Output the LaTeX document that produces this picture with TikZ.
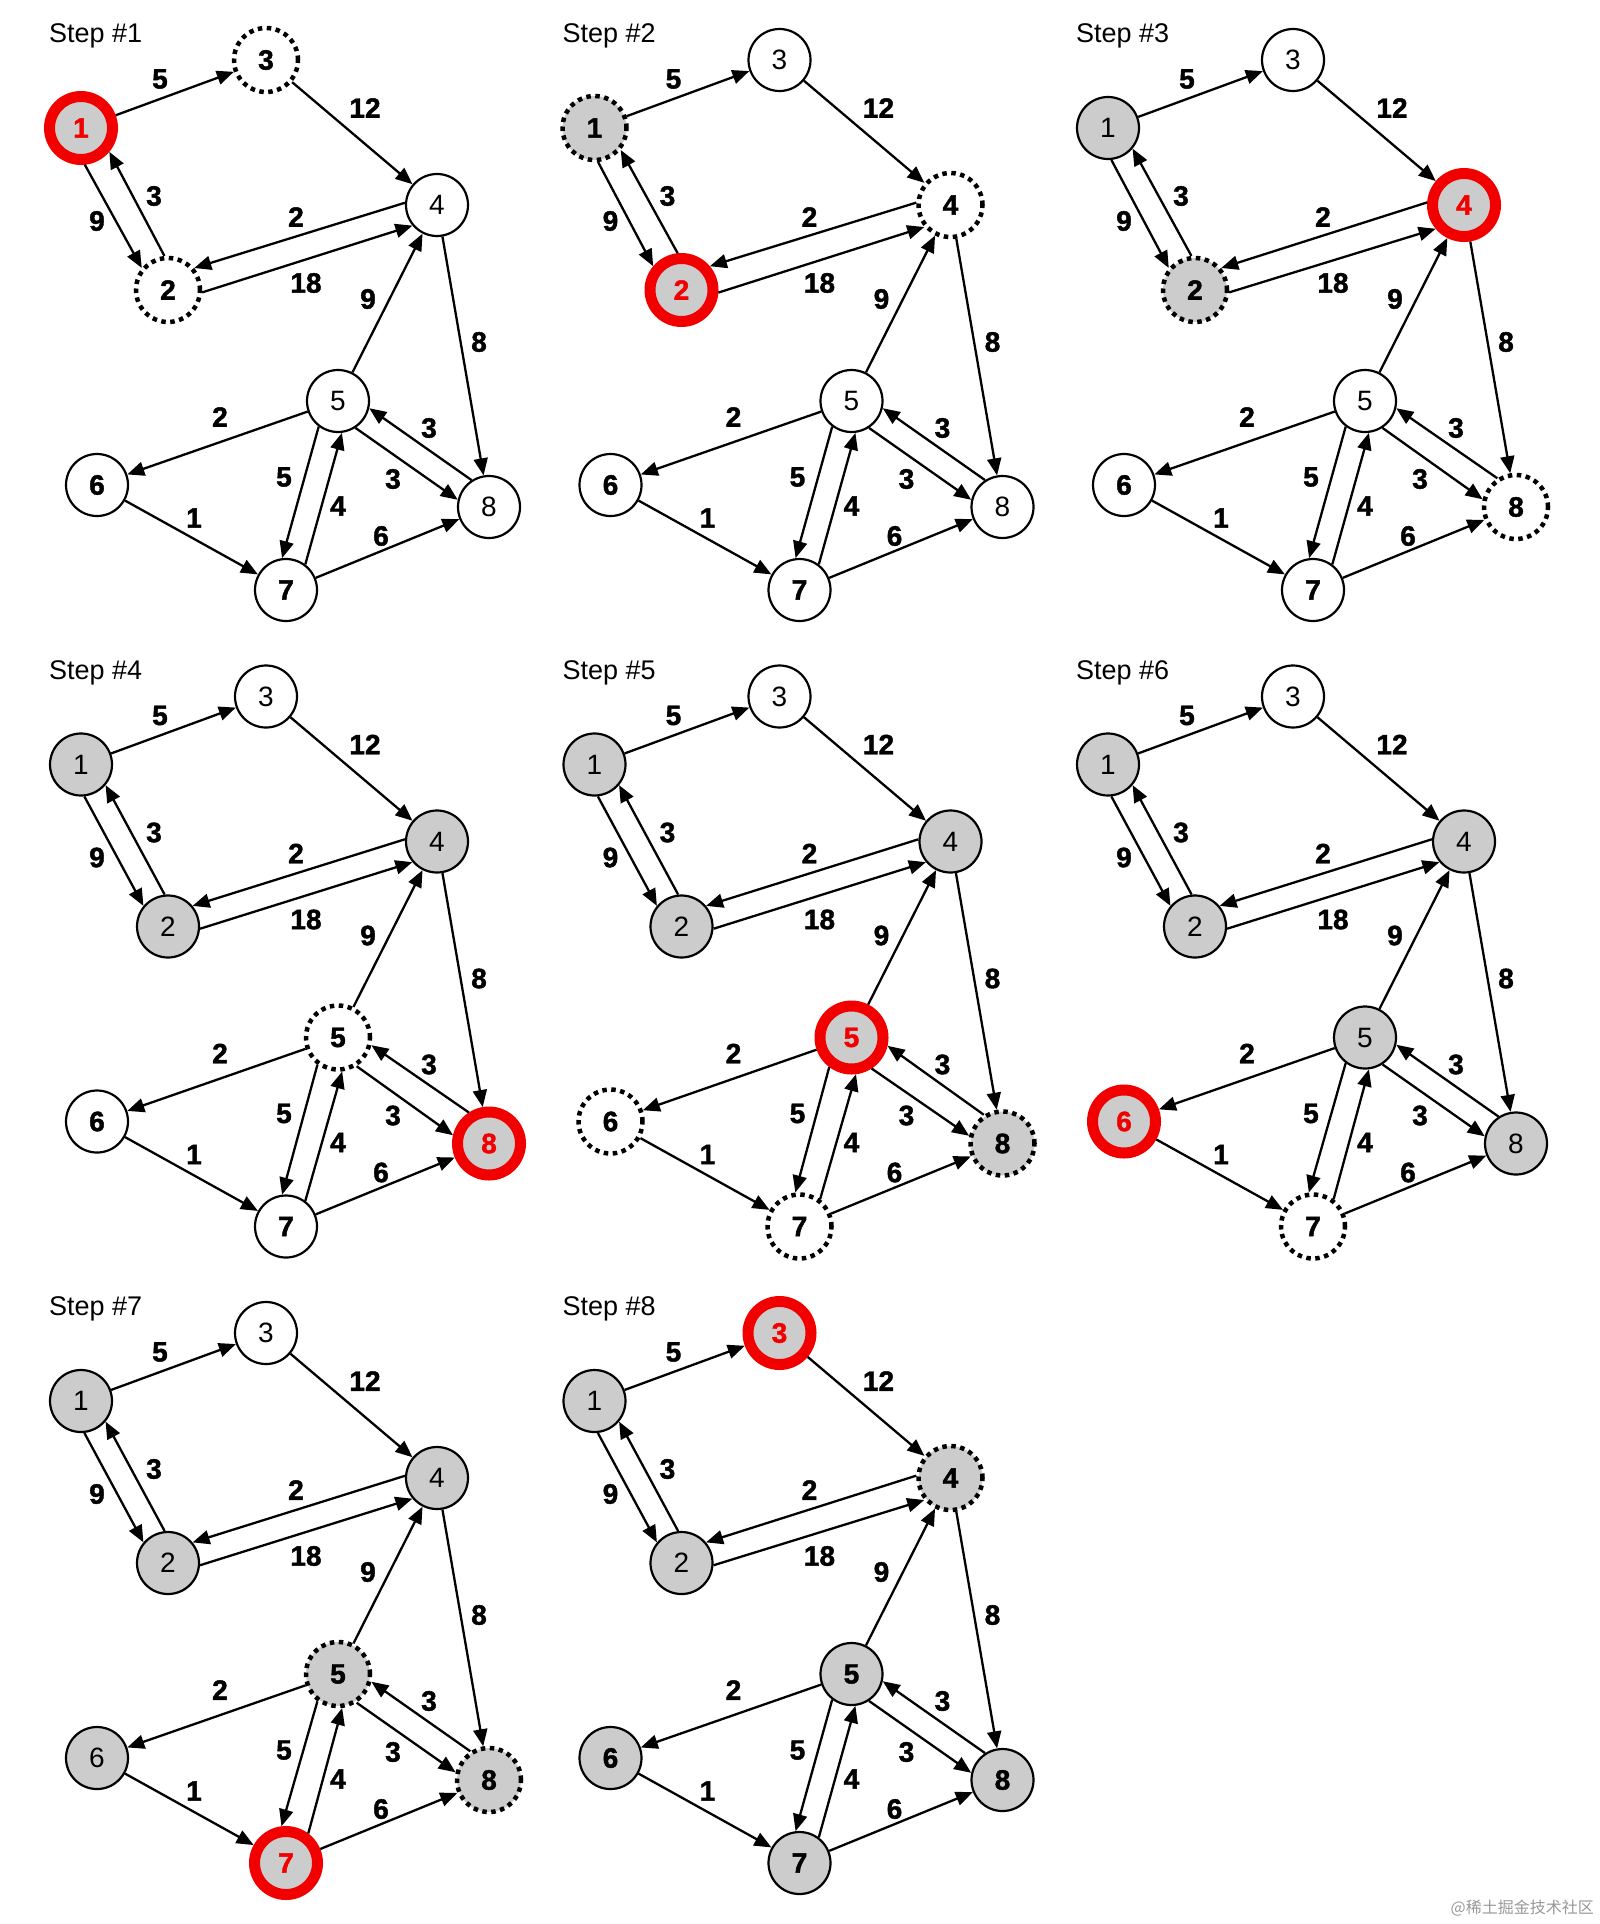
\documentclass[tikz,border=0pt]{standalone}
\usepackage{fontspec}
\setmainfont{Liberation Sans}
\newfontfamily\heavyfont{Liberation Sans}[BoldFeatures={FakeBold=1.5}]
\newfontfamily\cjkfont{Noto Sans CJK SC}
\usetikzlibrary{arrows.meta,calc}
\definecolor{nodegray}{HTML}{CCCCCC}
\definecolor{ringred}{HTML}{F20000}
\newcommand\nfont{\fontsize{28}{30}\selectfont}
\newcommand\bfont{\heavyfont\bfseries\fontsize{28}{30}\selectfont}
\tikzset{
  nbase/.style={circle, minimum size=62pt, inner sep=0pt, draw=black, line width=2.2pt, font=\nfont},
  nw/.style={nbase, fill=white},
  nwb/.style={nbase, fill=white, font=\bfont},
  ng/.style={nbase, fill=nodegray},
  ngb/.style={nbase, fill=nodegray, font=\bfont},
  ndw/.style={nbase, fill=white, line width=4.5pt, dash pattern=on 4.5pt off 4.5pt, minimum size=64pt, font=\bfont},
  ndg/.style={ndw, fill=nodegray},
  ncur/.style={nbase, fill=nodegray, draw=ringred, line width=11pt, minimum size=63pt, text=ringred, font=\bfont},
  edge/.style={line width=2.3pt, draw=black, -{Triangle[length=17pt,width=14pt]}},
  elbl/.style={font=\bfont, inner sep=0pt},
  ttl/.style={font=\fontsize{27}{30}\selectfont, anchor=west, inner sep=0pt},
}
% single edge
\newcommand\se[2]{\draw[edge] (#1) -- (#2);}
% pair of opposite edges, each on its right-hand side
\newcommand\pe[2]{%
  \draw[edge] let \p1=($(#2)-(#1)$), \n1={atan2(\y1,\x1)}, \n2={int(round(\n1-22))}, \n3={int(round(\n1+202))} in (#1.\n2) -- (#2.\n3);
  \draw[edge] let \p1=($(#2)-(#1)$), \n1={atan2(\y1,\x1)}, \n2={int(round(\n1+158))}, \n3={int(round(\n1+22))} in (#2.\n2) -- (#1.\n3);
}
\newcommand\panel[9]{%
  \pgfmathtruncatemacro\pcol{mod(#1-1,3)}%
  \pgfmathtruncatemacro\prow{floor((#1-1)/3)}%
  \pgfmathsetmacro\pdx{513.5*\pcol}%
  \pgfmathsetmacro\pdy{636.5*\prow}%
  \begin{scope}[shift={(\pdx,\pdy)}]
    \node[ttl] (t#1) at (49,36) {Step \##1};
    \node[#2] (p#1n1) at (81,128) {1};
    \node[#3] (p#1n2) at (168,290) {2};
    \node[#4] (p#1n3) at (266,60) {3};
    \node[#5] (p#1n4) at (437,205) {4};
    \node[#6] (p#1n5) at (338,401) {5};
    \node[#7] (p#1n6) at (97,485) {6};
    \node[#8] (p#1n7) at (286,590) {7};
    \node[#9] (p#1n8) at (489,507) {8};
    \se{p#1n1}{p#1n3}
    \se{p#1n3}{p#1n4}
    \pe{p#1n1}{p#1n2}
    \pe{p#1n2}{p#1n4}
    \se{p#1n5}{p#1n4}
    \se{p#1n4}{p#1n8}
    \se{p#1n5}{p#1n6}
    \pe{p#1n5}{p#1n8}
    \pe{p#1n5}{p#1n7}
    \se{p#1n6}{p#1n7}
    \se{p#1n7}{p#1n8}
    \node[elbl] (p#1l13) at (160,79) {5};
    \node[elbl] (p#1l34) at (365,108) {12};
    \node[elbl] (p#1l12) at (97,221) {9};
    \node[elbl] (p#1l21) at (154,196) {3};
    \node[elbl] (p#1l42) at (296,217) {2};
    \node[elbl] (p#1l24) at (306,283) {18};
    \node[elbl] (p#1l54) at (368,299) {9};
    \node[elbl] (p#1l48) at (479,342) {8};
    \node[elbl] (p#1l56) at (220,417) {2};
    \node[elbl] (p#1l85) at (429,428) {3};
    \node[elbl] (p#1l58) at (393,479) {3};
    \node[elbl] (p#1l57) at (284,477) {5};
    \node[elbl] (p#1l75) at (338,506) {4};
    \node[elbl] (p#1l67) at (194,518) {1};
    \node[elbl] (p#1l78) at (381,536) {6};
  \end{scope}
}
\begin{document}
\begin{tikzpicture}[x=1pt,y=-1pt]
  \useasboundingbox[fill=white] (0,0) rectangle (1600,1924);
  \panel{1}{ncur}{ndw}{ndw}{nw}{nw}{nwb}{nwb}{nw}
  \panel{2}{ndg}{ncur}{nw}{ndw}{nw}{nwb}{nwb}{nw}
  \panel{3}{ng}{ndg}{nw}{ncur}{nw}{nwb}{nwb}{ndw}
  \panel{4}{ng}{ng}{nw}{ng}{ndw}{nwb}{nwb}{ncur}
  \panel{5}{ng}{ng}{nw}{ng}{ncur}{ndw}{ndw}{ndg}
  \panel{6}{ng}{ng}{nw}{ng}{ng}{ncur}{ndw}{ng}
  \panel{7}{ng}{ng}{nw}{ng}{ndg}{ng}{ncur}{ndg}
  \panel{8}{ng}{ng}{ncur}{ndg}{ngb}{ngb}{ngb}{ngb}
  \node[anchor=east, inner sep=0pt, text=black!40, font=\cjkfont\fontsize{16}{18}\selectfont] (wm) at (1594,1908) {@稀土掘金技术社区};
\end{tikzpicture}
\end{document}
